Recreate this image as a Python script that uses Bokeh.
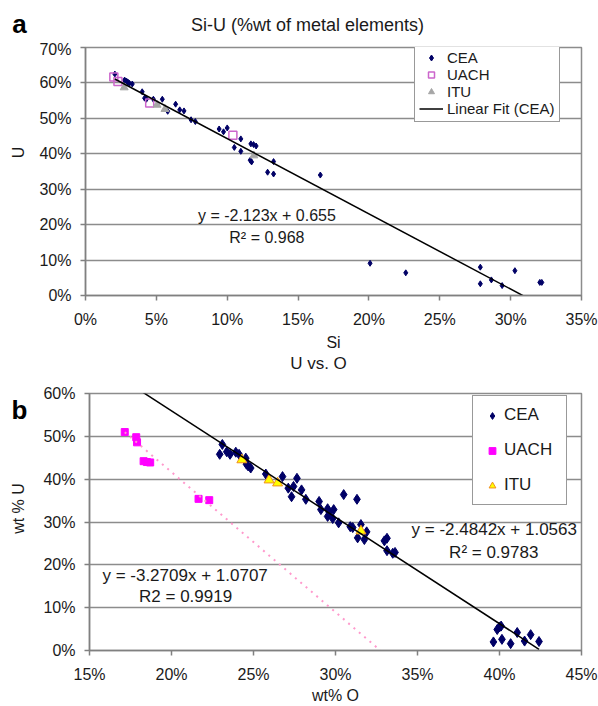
import math
from bokeh.plotting import figure
from bokeh.models import Range1d, FixedTicker, PrintfTickFormatter, Legend, LegendItem, Label
from bokeh.layouts import column, row
from bokeh.core.properties import value
from bokeh.embed import file_html
from bokeh.resources import INLINE

FONT = "Liberation Sans"

# ---------------- Chart a data (percent) ----------------
cea_si = [2.07, 2.76, 2.9, 3.0, 3.1, 3.3, 4.0, 4.17, 4.3, 4.79, 5.42, 5.8, 6.36, 6.65, 6.95, 7.45, 7.75,
          9.43, 9.74, 10.0, 10.96, 10.5, 10.96, 11.67, 11.86, 12.04, 11.62, 11.72, 13.27, 12.85, 13.27,
          16.57, 20.08, 22.6, 27.86, 27.86, 28.64, 29.4, 30.3, 32.06, 32.2]
cea_u = [62.5, 60.8, 60.5, 60.2, 59.9, 59.7, 57.5, 55.7, 55.4, 55.4, 55.4, 52.0, 54.0, 52.4, 52.1, 49.6, 49.1,
         47.0, 46.2, 47.3, 44.2, 41.8, 40.7, 42.8, 42.6, 42.2, 38.2, 37.7, 37.8, 34.8, 34.3,
         34.0, 9.1, 6.4, 8.0, 3.3, 4.4, 2.8, 7.0, 3.7, 3.7]
uach_si = [2.0, 2.29, 4.53, 10.4]
uach_u = [61.7, 60.4, 54.3, 45.2]
itu_si = [2.73, 5.05, 5.61, 11.88]
itu_u = [58.7, 53.8, 52.6, 39.5]
fit_a_slope, fit_a_icpt = -2.123, 0.655
a_xticks = [0, 5, 10, 15, 20, 25, 30, 35]
a_yticks = [0, 10, 20, 30, 40, 50, 60, 70]

# ---------------- Chart b data (percent) ----------------
cea_o = [22.94, 23.1, 23.37, 23.57, 23.92, 24.12, 24.53, 24.57, 24.67, 24.83, 25.75, 26.77, 27.65,
         27.12, 27.44, 27.93, 27.32, 28.19, 29.0, 29.11, 29.52, 29.89, 29.62, 29.52, 29.83, 30.19,
         30.5, 31.31, 30.9, 31.05, 31.55, 31.9, 31.35, 31.76, 32.98, 33.14, 33.14, 33.49, 33.63,
         39.86, 40.0, 40.1, 39.63, 40.15, 40.68, 41.08, 41.53, 41.9, 42.41]
cea_uo = [45.8, 48.1, 46.4, 45.8, 46.3, 45.8, 44.9, 43.5, 43.1, 42.6, 41.2, 40.6, 40.2,
          37.9, 38.3, 37.5, 35.9, 35.3, 34.8, 32.9, 33.1, 32.9, 32.3, 31.3, 30.8, 29.8,
          36.4, 35.3, 28.9, 28.7, 29.4, 27.7, 26.3, 25.9, 25.6, 26.2, 23.3, 22.7, 22.9,
          4.9, 5.5, 5.7, 2.0, 2.6, 1.6, 4.2, 2.2, 3.7, 2.1]
uach_o = [17.15, 17.85, 17.9, 18.3, 18.5, 18.7, 21.65, 22.3]
uach_uo = [51.0, 49.8, 48.6, 44.2, 44.0, 43.9, 35.4, 35.1]
itu_o = [24.29, 25.95, 26.47, 31.55]
itu_uo = [44.5, 39.8, 39.1, 27.9]
fit_cea_slope, fit_cea_icpt = -2.4842, 1.0563
fit_uach_slope, fit_uach_icpt = -3.2709, 1.0707
b_xticks = [15, 20, 25, 30, 35, 40, 45]
b_yticks = [0, 10, 20, 30, 40, 50, 60]

GRID = "#8c8c8c"
TXT = "#1a1a1a"


def blank(w, h):
    f = figure(width=w, height=h, x_range=Range1d(0, w), y_range=Range1d(h, 0),
               output_backend="svg", toolbar_location=None, min_border=0,
               x_axis_type=None, y_axis_type=None)
    f.grid.visible = False
    f.outline_line_color = None
    f.background_fill_color = "white"
    f.border_fill_color = "white"
    return f


def put_text(f, x, y, t, size, bold=False, angle=0.0, align="center"):
    f.text(x=[x], y=[y], text=[t], angle=angle, text_font=value(FONT),
           text_font_size=value(size), text_font_style="bold" if bold else "normal",
           text_align=align, text_baseline="middle", text_color=TXT if not bold else "black")


def style(p, xt, yt, xstand, xlab_stand):
    p.xgrid.visible = False
    p.ygrid.ticker = FixedTicker(ticks=yt)
    p.ygrid.grid_line_color = GRID
    p.ygrid.grid_line_width = 1.5
    p.outline_line_color = GRID
    p.outline_line_width = 1.5
    p.xaxis.ticker = FixedTicker(ticks=xt)
    p.yaxis.ticker = FixedTicker(ticks=yt)
    for ax in (p.xaxis[0], p.yaxis[0]):
        ax.formatter = PrintfTickFormatter(format="%d%%")
        ax.axis_line_color = "#808080"
        ax.axis_line_width = 1.5
        ax.major_tick_line_color = "#808080"
        ax.major_tick_line_width = 1.5
        ax.major_tick_out = 5
        ax.major_tick_in = 0
        ax.minor_tick_line_color = None
        ax.major_label_text_font = FONT
        ax.major_label_text_font_size = "16px"
        ax.major_label_text_color = TXT
        ax.axis_label_text_font = FONT
        ax.axis_label_text_font_size = "16px"
        ax.axis_label_text_font_style = "normal"
        ax.axis_label_text_color = TXT
    p.yaxis.major_label_standoff = 9
    p.xaxis.major_label_standoff = xstand
    p.xaxis.axis_label_standoff = xlab_stand
    p.background_fill_color = "white"
    p.border_fill_color = "white"


# ================= Chart a =================
head_a = blank(598, 40)
put_text(head_a, 19, 23, "a", "26px", bold=True)
put_text(head_a, 307, 24, "Si-U (%wt of metal elements)", "18px")

strip_a = blank(30, 313)
put_text(strip_a, 18, 132.5, "U", "16px", angle=math.pi / 2)

p1 = figure(width=568, height=313, x_range=Range1d(0, 35), y_range=Range1d(0, 70),
            output_backend="svg", toolbar_location=None,
            min_border_left=55, min_border_right=17, min_border_top=7, min_border_bottom=55)
style(p1, a_xticks, a_yticks, 10, 3)
p1.xaxis.axis_label = "Si"

r_cea_a = p1.scatter(cea_si, cea_u, marker="diamond", size=6, color="#000066")
r_uach_a = p1.scatter(uach_si, uach_u, marker="square", size=8, fill_alpha=0,
                      line_color="#CC66CC", line_width=1.5)
r_itu_a = p1.scatter(itu_si, itu_u, marker="triangle", size=8, color="#A6A6A6")
xa0, xa1 = min(cea_si), max(cea_si)
r_fit_a = p1.line([xa0, xa1],
                  [fit_a_slope * xa0 + fit_a_icpt * 100, fit_a_slope * xa1 + fit_a_icpt * 100],
                  line_color="black", line_width=1.5)

p1.add_layout(Label(x=12.8, y=22.6, text="y = -2.123x + 0.655", text_align="center",
                    text_baseline="middle", text_font=FONT, text_font_size="16px", text_color=TXT))
p1.add_layout(Label(x=12.8, y=16.5, text="R\u00b2 = 0.968", text_align="center",
                    text_baseline="middle", text_font=FONT, text_font_size="16px", text_color=TXT))

leg_a = Legend(items=[LegendItem(label="CEA", renderers=[r_cea_a]),
                      LegendItem(label="UACH", renderers=[r_uach_a]),
                      LegendItem(label="ITU", renderers=[r_itu_a]),
                      LegendItem(label="Linear Fit (CEA)", renderers=[r_fit_a])],
               location=(329, 173), orientation="vertical",
               label_text_font=FONT, label_text_font_size="15px", label_text_color=TXT,
               glyph_width=24, glyph_height=15, label_height=15,
               label_standoff=4, spacing=0, padding=4, margin=0,
               border_line_color="#333333", border_line_width=1, background_fill_alpha=1)
p1.add_layout(leg_a)

# ================= Chart b =================
head_b = blank(598, 20)
put_text(head_b, 318, 10, "U vs. O", "17px")

strip_b = blank(30, 333)
put_text(strip_b, 19, 22, "b", "26px", bold=True)
put_text(strip_b, 18, 149, "wt % U", "16px", angle=math.pi / 2)

p2 = figure(width=568, height=333, x_range=Range1d(15, 45), y_range=Range1d(0, 60),
            output_backend="svg", toolbar_location=None,
            min_border_left=59, min_border_right=17, min_border_top=20, min_border_bottom=54)
style(p2, b_xticks, b_yticks, 10, 1)
p2.xaxis.axis_label = "wt% O"

r_cea_b = p2.scatter(cea_o, cea_uo, marker="diamond", size=10, color="#000066")
r_uach_b = p2.scatter(uach_o, uach_uo, marker="square", size=7, color="#FF00FF")
r_itu_b = p2.scatter(itu_o, itu_uo, marker="triangle", size=10, fill_color="#FFFF00",
                     line_color="#F09020", line_width=1)
xb0, xb1 = 15, max(cea_o)
p2.line([xb0, xb1],
        [fit_cea_slope * xb0 + fit_cea_icpt * 100, fit_cea_slope * xb1 + fit_cea_icpt * 100],
        line_color="black", line_width=1.5)
xu0, xu1 = min(uach_o), 35
p2.line([xu0, xu1],
        [fit_uach_slope * xu0 + fit_uach_icpt * 100, fit_uach_slope * xu1 + fit_uach_icpt * 100],
        line_color="#FF99CC", line_width=2, line_dash="2 5")

for (x, y, t) in [(39.68, 28.3, "y = -2.4842x + 1.0563"), (39.65, 22.9, "R\u00b2 = 0.9783"),
                  (20.83, 17.4, "y = -3.2709x + 1.0707"), (20.86, 12.5, "R2 = 0.9919")]:
    p2.add_layout(Label(x=x, y=y, text=t, text_align="center", text_baseline="middle",
                        text_font=FONT, text_font_size="17px", text_color=TXT))

leg_b = Legend(items=[LegendItem(label="CEA", renderers=[r_cea_b]),
                      LegendItem(label="UACH", renderers=[r_uach_b]),
                      LegendItem(label="ITU", renderers=[r_itu_b])],
               location=(383, 145), orientation="vertical",
               label_text_font=FONT, label_text_font_size="17px", label_text_color=TXT,
               glyph_width=20, glyph_height=17, label_height=17, label_width=53,
               label_standoff=2, spacing=15, padding=9, margin=0,
               border_line_color="#333333", border_line_width=1, background_fill_alpha=1)
p2.add_layout(leg_b)

layout = column(head_a, row(strip_a, p1, spacing=0), head_b, row(strip_b, p2, spacing=0), spacing=0)
open("out.html", "w").write(file_html(layout, INLINE))
